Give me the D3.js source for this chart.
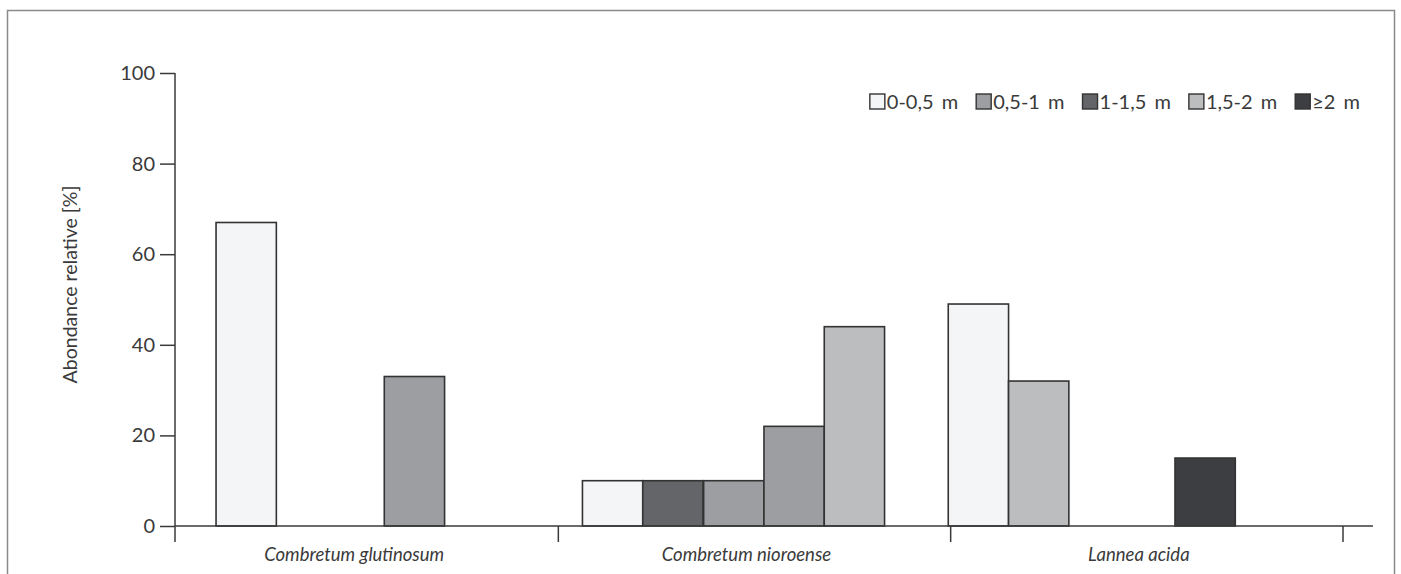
<!DOCTYPE html>
<html>
<head>
<meta charset="utf-8">
<script src="https://cdn.jsdelivr.net/npm/d3@7"></script>
<style>
  html, body { margin: 0; padding: 0; background: #fff; }
  svg { display: block; font-family: Lato, "Open Sans", sans-serif; }
</style>
</head>
<body>
<svg id="chart" width="1401" height="574"></svg>
<script>
// ---- data ----
const groups = ["Combretum glutinosum", "Combretum nioroense", "Lannea acida"];
const seriesNames = ["0-0,5 m", "0,5-1 m", "1-1,5 m", "1,5-2 m", "\u22652 m"];
const seriesColors = ["#f3f5f7", "#9c9ea1", "#646568", "#bcbdbf", "#3d3e41"];
const yTicks = [0, 20, 40, 60, 80, 100];

// bars per group: series index, value, slot (position in bar-width units from group start)
const glutinosumSeries = [0, 1];
const glutinosumValues = [67, 33];
const glutinosumSlots = [0.83, 3.62];

const nioroenseSeries = [0, 2, 1, 1, 3];
const nioroenseValues = [10, 10, 10, 22, 44];
const nioroenseSlots = [0.40, 1.40, 2.41, 3.41, 4.41];

const lanneaSeries = [0, 3, 4];
const lanneaValues = [49, 32, 15];
const lanneaSlots = [-0.04, 0.96, 3.72];

const yLabel = "Abondance relative [%]";

// ---- build ----
const barSets = [
  [glutinosumSeries, glutinosumValues, glutinosumSlots],
  [nioroenseSeries, nioroenseValues, nioroenseSlots],
  [lanneaSeries, lanneaValues, lanneaSlots]
];
const bars = [];
barSets.forEach((set, gi) => {
  set[0].forEach((s, i) => bars.push({ group: groups[gi], series: s, value: set[1][i], slot: set[2][i] }));
});

const svg = d3.select("#chart");
const ink = "#3a3a3a";

// frame
svg.append("rect")
  .attr("x", 7.5).attr("y", 10.5).attr("width", 1387).attr("height", 600)
  .attr("fill", "none").attr("stroke", "#8a8a8a").attr("stroke-width", 1.5);

const x0 = 175, x1 = 1343, axisEnd = 1373;
const y = d3.scaleLinear().domain([0, 100]).range([526, 73]);
const xg = d3.scaleBand().domain(groups).range([166, x1]).padding(0);
const barW = 60.3;
const slotScale = d3.scaleLinear().domain([0, 1]).range([0, barW]);
const color = d3.scaleOrdinal().domain(d3.range(seriesNames.length)).range(seriesColors);

// y axis
const yAxis = d3.axisLeft(y).tickValues(yTicks).tickSize(15).tickPadding(5);
const gy = svg.append("g").attr("transform", `translate(${x0},0)`).call(yAxis);
gy.select(".domain").remove();
gy.selectAll(".tick line").attr("stroke", ink).attr("stroke-width", 1.5);
gy.selectAll(".tick text").attr("fill", ink).style("font-size", "20px").style("font-family", "Lato, sans-serif");
svg.append("line").attr("x1", x0).attr("x2", x0).attr("y1", y(100)).attr("y2", y(0) + 16)
  .attr("stroke", ink).attr("stroke-width", 1.5);

// bars
svg.append("g").selectAll("rect").data(bars).join("rect")
  .attr("x", d => xg(d.group) + slotScale(d.slot))
  .attr("width", barW)
  .attr("y", d => y(d.value))
  .attr("height", d => y(0) - y(d.value))
  .attr("fill", d => color(d.series))
  .attr("stroke", "#333")
  .attr("stroke-width", 1.6);

// x axis baseline
svg.append("line").attr("x1", x0).attr("x2", axisEnd).attr("y1", y(0)).attr("y2", y(0))
  .attr("stroke", ink).attr("stroke-width", 1.5);
// group separators
const seps = groups.slice(1).map(g => xg(g)).concat([x1]);
svg.append("g").selectAll("line").data(seps).join("line")
  .attr("x1", d => d).attr("x2", d => d).attr("y1", y(0)).attr("y2", y(0) + 16)
  .attr("stroke", ink).attr("stroke-width", 1.5);
// group labels
svg.append("g").selectAll("text").data(groups).join("text")
  .attr("x", d => xg(d) + xg.bandwidth() / 2 - 8)
  .attr("y", 561)
  .attr("text-anchor", "middle")
  .attr("fill", ink)
  .style("font-size", "18.5px").style("font-style", "italic")
  .text(d => d);

// y label
svg.append("text")
  .attr("transform", `translate(77,${(y(0) + y(100)) / 2 - 15}) rotate(-90)`)
  .attr("text-anchor", "middle")
  .attr("fill", ink)
  .style("font-size", "19.5px")
  .text(yLabel);

// legend (right-aligned)
const legend = svg.append("g");
const items = legend.selectAll("g").data(seriesNames).join("g");
items.append("rect")
  .attr("width", 15).attr("height", 15).attr("y", 94)
  .attr("fill", (d, i) => color(i)).attr("stroke", "#333").attr("stroke-width", 1.4);
items.append("text")
  .attr("x", 17).attr("y", 108.5)
  .attr("fill", ink).style("font-size", "20px").style("word-spacing", "3px")
  .text(d => d);
let cursor = 1360;
const widths = [];
items.each(function () { widths.push(17 + d3.select(this).select("text").node().getComputedTextLength()); });
const gap = 18;
const positions = [];
for (let i = widths.length - 1; i >= 0; i--) {
  cursor -= widths[i];
  positions[i] = cursor;
  cursor -= gap;
}
items.attr("transform", (d, i) => `translate(${positions[i]},0)`);
</script>
</body>
</html>
